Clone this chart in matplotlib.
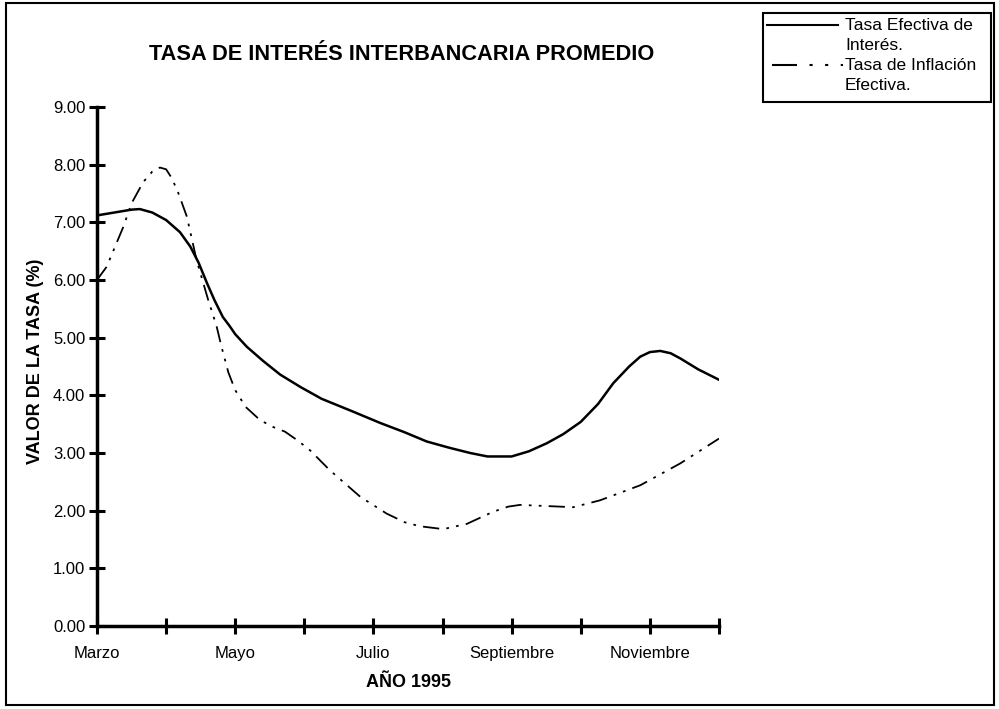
import matplotlib
matplotlib.use("Agg")
import matplotlib.pyplot as plt
from matplotlib.lines import Line2D
from matplotlib.patches import Rectangle

plt.rcParams['font.family'] = ['Liberation Sans', 'DejaVu Sans']

# months since March 1995 (0 = Marzo, 9 = Diciembre)
efectiva_mes = [0.0, 0.3, 0.5, 0.62, 0.8, 1.0, 1.2, 1.35, 1.47, 1.59, 1.7, 1.82, 1.92,
                2.0, 2.17, 2.4, 2.65, 2.95, 3.25, 3.7, 4.1, 4.45, 4.77, 5.1, 5.4, 5.65,
                6.0, 6.25, 6.51, 6.75, 7.0, 7.25, 7.47, 7.7, 7.86, 8.0, 8.15, 8.3, 8.44,
                8.7, 9.0]
efectiva_val = [7.12, 7.18, 7.22, 7.23, 7.17, 7.04, 6.83, 6.58, 6.3, 5.95, 5.65, 5.36, 5.2,
                5.06, 4.84, 4.6, 4.36, 4.14, 3.94, 3.72, 3.52, 3.36, 3.20, 3.09, 3.0, 2.94,
                2.94, 3.03, 3.17, 3.33, 3.54, 3.85, 4.21, 4.5, 4.67, 4.75, 4.77, 4.73, 4.64,
                4.45, 4.27]

inflacion_mes = [0.0, 0.14, 0.38, 0.5, 0.67, 0.8, 0.91, 1.0, 1.08, 1.17, 1.3, 1.44, 1.61,
                 1.73, 1.8, 1.9, 2.0, 2.15, 2.36, 2.55, 2.72, 2.9, 3.08, 3.37, 3.81, 4.19,
                 4.45, 4.67, 5.01, 5.35, 5.73, 5.95, 6.12, 6.51, 6.89, 7.28, 7.86, 8.44, 9.0]
inflacion_val = [6.0, 6.23, 6.92, 7.33, 7.7, 7.88, 7.95, 7.92, 7.77, 7.53, 7.1, 6.35, 5.65,
                 5.2, 4.85, 4.4, 4.09, 3.8, 3.57, 3.45, 3.37, 3.22, 3.05, 2.7, 2.24, 1.95,
                 1.8, 1.73, 1.68, 1.77, 1.98, 2.07, 2.10, 2.08, 2.06, 2.18, 2.44, 2.82, 3.25]

meses = ['Marzo', '', 'Mayo', '', 'Julio', '', 'Septiembre', '', 'Noviembre', '']
y_ticks = [0, 1, 2, 3, 4, 5, 6, 7, 8, 9]

fig = plt.figure(figsize=(9.99, 7.09), dpi=100)
W, H = 999, 709
ax = fig.add_axes([97 / W, 1 - 626 / H, (719 - 97) / W, (626 - 107) / H])

dashdot = (0, (9, 4, 1.5, 4, 1.5, 4))
ax.plot(efectiva_mes, efectiva_val, color='black', lw=1.8, solid_joinstyle='round')
ax.plot(inflacion_mes, inflacion_val, color='black', lw=1.3, linestyle=dashdot)

ax.set_xlim(0, 9)
ax.set_ylim(0, 9)
ax.set_xticks(range(len(meses)))
ax.set_xticklabels(meses, fontsize=12)
ax.set_yticks(y_ticks)
ax.set_yticklabels([f'{v:.2f}' for v in y_ticks], fontsize=12)
for s in ['top', 'right']:
    ax.spines[s].set_visible(False)
for s in ['left', 'bottom']:
    ax.spines[s].set_linewidth(2.5)
ax.tick_params(direction='inout', length=11, width=2.2, pad=3)
ax.tick_params(axis='x', pad=9)

ax.set_ylabel('VALOR DE LA TASA (%)', fontsize=13, fontweight='bold')
ax.yaxis.set_label_coords(-0.086, 0.51)
ax.set_xlabel('AÑO 1995', fontsize=13, fontweight='bold', labelpad=9)
fig.text(402 / W, 1 - 55 / H, 'TASA DE INTERÉS INTERBANCARIA PROMEDIO',
         ha='center', va='center', fontsize=15.7, fontweight='bold')

# outer border
fig.patches.append(Rectangle((6 / W, 1 - 705 / H), 988 / W, 702 / H, transform=fig.transFigure,
                             fill=False, lw=1.5, ec='black'))

# legend box
fig.patches.append(Rectangle((763 / W, 1 - 102 / H), 228 / W, 89 / H, transform=fig.transFigure,
                             fill=True, fc='white', lw=1.5, ec='black', zorder=5))
fig.lines.append(Line2D([767 / W, 838 / W], [1 - 25 / H, 1 - 25 / H], transform=fig.transFigure,
                        color='black', lw=1.5, zorder=6))
fig.lines.append(Line2D([772 / W, 843 / W], [1 - 65 / H, 1 - 65 / H], transform=fig.transFigure,
                        color='black', lw=1.5, linestyle=(0, (12, 6, 1.5, 6, 1.5, 6)), zorder=6))
legend_rows = [('Tasa Efectiva de', 25), ('Interés.', 45), ('Tasa de Inflación', 65), ('Efectiva.', 85)]
for txt, yy in legend_rows:
    fig.text(845 / W, 1 - yy / H, txt, fontsize=12.5, va='center', ha='left', zorder=7)

fig.savefig('out.png', dpi=100)
